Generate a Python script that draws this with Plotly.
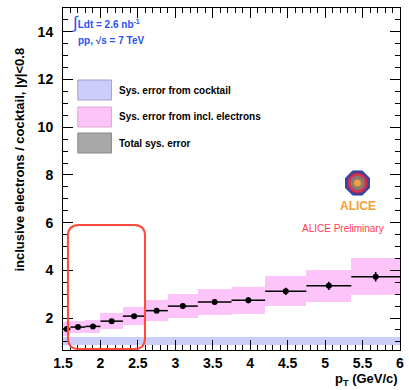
import plotly.graph_objects as go
import math

# ---- data ----
bin_lo = [1.5, 1.6, 1.8, 2.0, 2.3, 2.6, 2.9, 3.3, 3.75, 4.2, 4.75, 5.35]
bin_hi = [1.6, 1.8, 2.0, 2.3, 2.6, 2.9, 3.3, 3.75, 4.2, 4.75, 5.35, 6.0]
ratio = [1.54, 1.62, 1.65, 1.87, 2.08, 2.31, 2.50, 2.67, 2.75, 3.12, 3.35, 3.73]
stat_err = [0.08, 0.08, 0.08, 0.09, 0.09, 0.10, 0.11, 0.12, 0.13, 0.15, 0.17, 0.20]
sys_incl = [0.30, 0.25, 0.26, 0.34, 0.39, 0.45, 0.50, 0.55, 0.57, 0.63, 0.68, 0.77]
cocktail_lo = [0.88] * 12
cocktail_hi = [1.20] * 12

xticks = [1.5, 2, 2.5, 3, 3.5, 4, 4.5, 5, 5.5, 6]
xticklabels = ["1.5", "2", "2.5", "3", "3.5", "4", "4.5", "5", "5.5", "6"]
yticks = [2, 4, 6, 8, 10, 12, 14]
yticklabels = ["2", "4", "6", "8", "10", "12", "14"]

centers = [(a + b) / 2 for a, b in zip(bin_lo, bin_hi)]
widths = [b - a for a, b in zip(bin_lo, bin_hi)]
halfw = [w / 2 for w in widths]

FONT = "Liberation Sans, Arial, Helvetica, sans-serif"
PINK = "#fcc4f8"
BLUE = "#cccdf8"

fig = go.Figure()

# cocktail sys band
fig.add_trace(go.Bar(
    x=centers, y=[h - l for h, l in zip(cocktail_hi, cocktail_lo)], base=cocktail_lo,
    width=widths, marker=dict(color=BLUE, line=dict(width=0)), showlegend=False,
    hoverinfo="skip"))

# inclusive electron sys boxes
fig.add_trace(go.Bar(
    x=centers, y=[2 * e for e in sys_incl], base=[r - e for r, e in zip(ratio, sys_incl)],
    width=widths, marker=dict(color=PINK, line=dict(width=0)), showlegend=False,
    hoverinfo="skip"))

# data points
fig.add_trace(go.Scatter(
    x=centers, y=ratio, mode="markers",
    marker=dict(color="black", size=6, symbol="circle"),
    error_x=dict(type="data", array=halfw, color="black", thickness=1.5, width=0),
    error_y=dict(type="data", array=stat_err, color="black", thickness=1.5, width=0),
    showlegend=False))

L, R, T, B = 63, 5, 8, 40
W, H = 409, 390
pw, ph = W - L - R, H - T - B


def fx(px):
    return (px - L) / pw


def fy(py):
    return (H - B - py) / ph


shapes = []
annotations = []

# red rounded rectangle (highlight)
x0, x1, y0, y1 = fx(68), fx(146), fy(349), fy(225)
rx, ry = 11 / pw, 11 / ph
path = (f"M {x0+rx} {y0} L {x1-rx} {y0} Q {x1} {y0} {x1} {y0+ry} "
        f"L {x1} {y1-ry} Q {x1} {y1} {x1-rx} {y1} L {x0+rx} {y1} "
        f"Q {x0} {y1} {x0} {y1-ry} L {x0} {y0+ry} Q {x0} {y0} {x0+rx} {y0} Z")
shapes.append(dict(type="path", xref="paper", yref="paper", path=path,
                   line=dict(color="#ff4a3a", width=2)))

# legend boxes
leg = [("Sys. error from cocktail", BLUE, "#a0a0d0", 80),
       ("Sys. error from incl. electrons", PINK, "#d8a8d8", 107),
       ("Total sys. error", "#a9a9a9", "#888888", 133)]
for text, fc, lc, ytop in leg:
    shapes.append(dict(type="rect", xref="paper", yref="paper",
                       x0=fx(78), x1=fx(112), y0=fy(ytop + 20), y1=fy(ytop),
                       fillcolor=fc, line=dict(color=lc, width=1)))
    annotations.append(dict(xref="paper", yref="paper", x=fx(118), y=fy(ytop + 10),
                            xanchor="left", yanchor="middle", showarrow=False,
                            text=f"<b>{text}</b>",
                            font=dict(family=FONT, size=10, color="black")))

# luminosity labels
annotations.append(dict(xref="paper", yref="paper", x=fx(70), y=fy(22),
                        xanchor="left", yanchor="middle", showarrow=False,
                        text="<span style='font-size:17px'>∫</span><b>Ldt = 2.6 nb<sup>-1</sup></b>",
                        font=dict(family=FONT, size=10, color="#2a50f0")))
annotations.append(dict(xref="paper", yref="paper", x=fx(76), y=fy(41),
                        xanchor="left", yanchor="middle", showarrow=False,
                        text="<b>pp, √s = 7 TeV</b>",
                        font=dict(family=FONT, size=10, color="#2a50f0")))

# ALICE logo (simple drawing)
cx, cy, rr = 361, 183, 13
pts = []
for k in range(8):
    a = math.pi / 8 + k * math.pi / 4
    pts.append((fx(cx + rr * math.cos(a)), fy(cy + rr * math.sin(a))))
oct_path = "M " + " L ".join(f"{a} {b}" for a, b in pts) + " Z"
shapes.append(dict(type="path", xref="paper", yref="paper", path=oct_path,
                   fillcolor="#3548a8", line=dict(color="#2a3890", width=1)))
shapes.append(dict(type="circle", xref="paper", yref="paper",
                   x0=fx(cx - 10), x1=fx(cx + 10), y0=fy(cy + 10), y1=fy(cy - 10),
                   fillcolor="#c83a5a", line=dict(color="#c02040", width=1)))
shapes.append(dict(type="circle", xref="paper", yref="paper",
                   x0=fx(cx - 7), x1=fx(cx + 7), y0=fy(cy + 7), y1=fy(cy - 7),
                   fillcolor="#8a7a70", line=dict(width=0)))
shapes.append(dict(type="circle", xref="paper", yref="paper",
                   x0=fx(cx - 3.5), x1=fx(cx + 3.5), y0=fy(cy + 3.5), y1=fy(cy - 3.5),
                   fillcolor="#f0a040", line=dict(width=0)))
annotations.append(dict(xref="paper", yref="paper", x=fx(361), y=fy(206),
                        xanchor="center", yanchor="middle", showarrow=False,
                        text="<b>ALICE</b>",
                        font=dict(family=FONT, size=12, color="#f5a030")))
annotations.append(dict(xref="paper", yref="paper", x=fx(346), y=fy(229),
                        xanchor="center", yanchor="middle", showarrow=False,
                        text="ALICE Preliminary",
                        font=dict(family=FONT, size=10, color="#ff3a55")))

# axis titles
annotations.append(dict(xref="paper", yref="paper", x=fx(18), y=fy(160),
                        xanchor="center", yanchor="middle", showarrow=False,
                        textangle=-90,
                        text="<b>inclusive electrons / cocktail, |y|<0.8</b>",
                        font=dict(family=FONT, size=13, color="black")))
annotations.append(dict(xref="paper", yref="paper", x=fx(404), y=fy(379),
                        xanchor="right", yanchor="middle", showarrow=False,
                        text="<b>p<sub>T</sub> (GeV/c)</b>",
                        font=dict(family=FONT, size=13, color="black")))

fig.update_layout(
    width=W, height=H,
    margin=dict(l=L, r=R, t=T, b=B),
    paper_bgcolor="white", plot_bgcolor="white",
    barmode="overlay", bargap=0,
    shapes=shapes, annotations=annotations,
    showlegend=False,
)

fig.update_xaxes(
    range=[1.5, 6.0], tickmode="array", tickvals=xticks, ticktext=xticklabels,
    ticks="inside", ticklen=10, tickwidth=1, tickcolor="black",
    showline=True, linecolor="black", linewidth=1, mirror="allticks",
    showgrid=False, zeroline=False,
    tickfont=dict(family=FONT, size=14, color="black", weight="bold"),
    minor=dict(dtick=0.1, ticks="inside", ticklen=5, tickcolor="black", showgrid=False),
)
fig.update_yaxes(
    range=[0.66, 15.0], tickmode="array", tickvals=yticks, ticktext=yticklabels,
    ticks="inside", ticklen=10, tickwidth=1, tickcolor="black",
    showline=True, linecolor="black", linewidth=1, mirror="allticks",
    showgrid=False, zeroline=False, ticklabelstandoff=6,
    tickfont=dict(family=FONT, size=14, color="black", weight="bold"),
    minor=dict(dtick=0.5, tick0=0, ticks="inside", ticklen=5, tickcolor="black", showgrid=False),
)

fig.write_html("out.html")
